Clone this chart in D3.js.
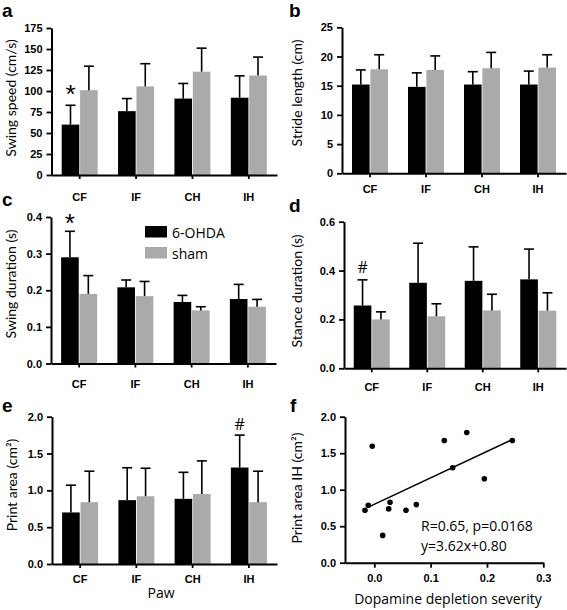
<!DOCTYPE html>
<html><head><meta charset="utf-8">
<script src="https://cdn.jsdelivr.net/npm/d3@7"></script>
<style>
body{margin:0;background:#fff;}
svg{display:block;}
.tick text{font-family:"Liberation Sans",Arial,sans-serif;font-weight:bold;fill:#000;}
</style></head>
<body>
<svg id="chart" width="567" height="610"></svg>
<script>
// ---------- DATA ----------
const categories = ["CF", "IF", "CH", "IH"];
const groups = ["6-OHDA", "sham"];

// a: swing speed (cm/s)
const swingSpeedOHDA = [60, 76, 91, 92];
const swingSpeedOHDASD = [23, 15, 18, 26];
const swingSpeedSham = [101, 105.5, 123, 118.4];
const swingSpeedShamSD = [28.5, 27, 28, 22];
const swingSpeedTicks = [0, 25, 50, 75, 100, 125, 150, 175];

// b: stride length (cm)
const strideOHDA = [15.2, 14.8, 15.2, 15.2];
const strideOHDASD = [2.5, 2.4, 2.2, 2.3];
const strideSham = [17.8, 17.7, 18.0, 18.1];
const strideShamSD = [2.5, 2.4, 2.7, 2.2];
const strideTicks = [0, 5, 10, 15, 20, 25];

// c: swing duration (s)
const swingDurOHDA = [0.29, 0.208, 0.168, 0.176];
const swingDurOHDASD = [0.071, 0.02, 0.018, 0.04];
const swingDurSham = [0.19, 0.184, 0.145, 0.155];
const swingDurShamSD = [0.05, 0.04, 0.01, 0.02];
const swingDurTicks = [0, 0.1, 0.2, 0.3, 0.4];

// d: stance duration (s)
const stanceOHDA = [0.257, 0.35, 0.358, 0.364];
const stanceOHDASD = [0.105, 0.162, 0.139, 0.124];
const stanceSham = [0.2, 0.213, 0.237, 0.236];
const stanceShamSD = [0.031, 0.051, 0.066, 0.073];
const stanceTicks = [0, 0.2, 0.4, 0.6];

// e: print area (cm2)
const printOHDA = [0.70, 0.867, 0.885, 1.31];
const printOHDASD = [0.37, 0.44, 0.36, 0.44];
const printSham = [0.84, 0.92, 0.95, 0.84];
const printShamSD = [0.42, 0.38, 0.45, 0.42];
const printTicks = [0, 0.5, 1.0, 1.5, 2.0];

// f: scatter, dopamine depletion severity vs print area IH
const depletion = [-0.0165, -0.0107, -0.0036, 0.0149, 0.0256, 0.0279, 0.0563, 0.0746, 0.1243, 0.1392, 0.1641, 0.1953, 0.2450];
const printIH   = [0.719, 0.787, 1.596, 0.374, 0.737, 0.828, 0.719, 0.796, 1.674, 1.301, 1.783, 1.151, 1.674];
const fitSlope = 3.62, fitIntercept = 0.80;
const fitRange = [-0.0107, 0.2450];
const scatterXTicks = [0.0, 0.1, 0.2, 0.3];
const scatterYTicks = [0, 0.5, 1.0, 1.5, 2.0];
const statsText = ["R=0.65, p=0.0168", "y=3.62x+0.80"];

// ---------- DRAW ----------
const svg = d3.select("#chart");
const BLACK = "#000", GRAY = "#aaaaaa";
const labelFont = '"Open Sans", "Liberation Sans", sans-serif';
const yLabelFont = 'Lato, "Open Sans", sans-serif';
const letterFont = '"Liberation Sans", Arial, sans-serif';

function barPanel(o) {
  const g = svg.append("g");
  const x = d3.scaleBand().domain(categories).range([o.x0, o.x1]).padding(0);
  const y = d3.scaleLinear().domain([0, o.max]).range([o.y0, o.y1]);
  const bw = 17.6, gap = 0.4;
  const rows = categories.map((c, i) => ({c, a: o.a[i], as: o.as[i], b: o.b[i], bs: o.bs[i]}));
  const cx = d => x(d.c) + x.bandwidth() / 2;
  const eb = (sel, key, skey, off) => {
    sel.append("line").attr("x1", d => off(d)).attr("x2", d => off(d))
      .attr("y1", d => y(d[key])).attr("y2", d => y(d[key] + d[skey]))
      .attr("stroke", BLACK).attr("stroke-width", 1.6);
    sel.append("line").attr("x1", d => off(d) - 5).attr("x2", d => off(d) + 5)
      .attr("y1", d => y(d[key] + d[skey])).attr("y2", d => y(d[key] + d[skey]))
      .attr("stroke", BLACK).attr("stroke-width", 1.6);
  };
  const grp = g.selectAll("g.cat").data(rows).join("g");
  grp.append("rect").attr("x", d => cx(d) - gap - bw).attr("width", bw)
    .attr("y", d => y(d.a)).attr("height", d => y(0) - y(d.a)).attr("fill", BLACK);
  grp.append("rect").attr("x", d => cx(d) + gap).attr("width", bw)
    .attr("y", d => y(d.b)).attr("height", d => y(0) - y(d.b)).attr("fill", GRAY);
  eb(grp, "a", "as", d => cx(d) - gap - bw / 2);
  eb(grp, "b", "bs", d => cx(d) + gap + bw / 2);
  const ya = g.append("g").attr("transform", `translate(${o.x0},0)`)
    .call(d3.axisLeft(y).tickValues(o.ticks).tickFormat(o.fmt).tickSize(5).tickPadding(4).tickSizeOuter(0));
  const xa = g.append("g").attr("transform", `translate(0,${o.y0})`)
    .call(d3.axisBottom(x).tickSize(4).tickPadding(o.labelDy - 4 - 7.8).tickSizeOuter(0));
  [ya, xa].forEach(a => {
    a.select(".domain").attr("stroke", BLACK).attr("stroke-width", 2);
    a.selectAll(".tick line").attr("stroke", BLACK).attr("stroke-width", 1.8);
  });
  ya.selectAll(".tick text").attr("font-size", 11);
  xa.selectAll(".tick text").attr("font-size", 11);
  g.append("text").attr("transform", `translate(${o.lx},${o.ly}) rotate(-90)`)
    .attr("text-anchor", "middle").attr("dominant-baseline", "central")
    .attr("font-family", yLabelFont).attr("font-size", 14).attr("fill", "#000")
    .text(o.label);
  g.append("text").attr("x", o.px).attr("y", o.py).attr("font-family", letterFont)
    .attr("font-weight", "bold").attr("font-size", 19).text(o.letter);
  if (o.mark) {
    const d = rows[o.mark.i];
    g.append("text").attr("x", cx(d) - gap - bw / 2).attr("y", o.mark.yb)
      .attr("text-anchor", "middle").attr("font-family", o.mark.font)
      .attr("font-size", o.mark.size).text(o.mark.t);
  }
  return {x, y, g};
}

barPanel({letter: "a", px: 2, py: 17, x0: 51.5, x1: 277, y0: 175, y1: 28, max: 175,
  ticks: swingSpeedTicks, fmt: d3.format("d"), labelDy: 26,
  a: swingSpeedOHDA, as: swingSpeedOHDASD, b: swingSpeedSham, bs: swingSpeedShamSD,
  label: "Swing speed (cm/s)", lx: 10, ly: 98,
  mark: {i: 0, t: "*", yb: 103, size: 26, font: letterFont}});

barPanel({letter: "b", px: 289, py: 17, x0: 342, x1: 566, y0: 173.3, y1: 27.3, max: 25,
  ticks: strideTicks, fmt: d3.format("d"), labelDy: 20,
  a: strideOHDA, as: strideOHDASD, b: strideSham, bs: strideShamSD,
  label: "Stride length (cm)", lx: 296, ly: 93});

barPanel({letter: "c", px: 2, py: 206, x0: 51, x1: 276, y0: 363.5, y1: 217, max: 0.4,
  ticks: swingDurTicks, fmt: d3.format(".1f"), labelDy: 24,
  a: swingDurOHDA, as: swingDurOHDASD, b: swingDurSham, bs: swingDurShamSD,
  label: "Swing duration (s)", lx: 10, ly: 284,
  mark: {i: 0, t: "*", yb: 232, size: 26, font: letterFont}});

barPanel({letter: "d", px: 289, py: 212, x0: 344, x1: 566, y0: 368.3, y1: 221.7, max: 0.6,
  ticks: stanceTicks, fmt: d3.format(".1f"), labelDy: 23,
  a: stanceOHDA, as: stanceOHDASD, b: stanceSham, bs: stanceShamSD,
  label: "Stance duration (s)", lx: 296, ly: 291,
  mark: {i: 0, t: "#", yb: 273, size: 16, font: labelFont}});

barPanel({letter: "e", px: 2, py: 412, x0: 52, x1: 277, y0: 564, y1: 416.7, max: 2,
  ticks: printTicks, fmt: d3.format(".1f"), labelDy: 19,
  a: printOHDA, as: printOHDASD, b: printSham, bs: printShamSD,
  label: "Print area (cm²)", lx: 11, ly: 485,
  mark: {i: 3, t: "#", yb: 430, size: 16, font: labelFont}});

// legend (in panel c)
const legend = svg.append("g");
groups.forEach((gname, i) => {
  legend.append("rect").attr("x", 145).attr("y", 226 + i * 21).attr("width", 22).attr("height", 11.5)
    .attr("fill", i === 0 ? BLACK : GRAY);
  legend.append("text").attr("x", 172).attr("y", 232 + i * 21).attr("dominant-baseline", "central")
    .attr("font-family", labelFont).attr("font-size", 14).text(gname);
});

svg.append("text").attr("x", 161).attr("y", 598).attr("text-anchor", "middle")
  .attr("font-family", labelFont).attr("font-size", 14).text("Paw");

// ---------- panel f ----------
const fx = d3.scaleLinear().domain([-0.052, 0.3]).range([345, 543.3]);
const fy = d3.scaleLinear().domain([0, 2]).range([562.7, 416.7]);
const fg = svg.append("g");
const fya = fg.append("g").attr("transform", "translate(345,0)")
  .call(d3.axisLeft(fy).tickValues(scatterYTicks).tickFormat(d3.format(".1f")).tickSize(5).tickPadding(4).tickSizeOuter(0));
const fxa = fg.append("g").attr("transform", "translate(0,562.7)")
  .call(d3.axisBottom(fx).tickValues(scatterXTicks).tickFormat(d3.format(".1f")).tickSize(5).tickPadding(7).tickSizeOuter(0));
[fya, fxa].forEach(a => {
  a.select(".domain").attr("stroke", BLACK).attr("stroke-width", 2);
  a.selectAll(".tick line").attr("stroke", BLACK).attr("stroke-width", 1.8);
  a.selectAll(".tick text").attr("font-size", 11);
});
fg.append("line").attr("x1", fx(fitRange[0])).attr("y1", fy(fitSlope * fitRange[0] + fitIntercept))
  .attr("x2", fx(fitRange[1])).attr("y2", fy(fitSlope * fitRange[1] + fitIntercept))
  .attr("stroke", BLACK).attr("stroke-width", 1.5);
fg.selectAll("circle").data(depletion.map((d, i) => [d, printIH[i]])).join("circle")
  .attr("cx", d => fx(d[0])).attr("cy", d => fy(d[1])).attr("r", 2.8).attr("fill", BLACK);
statsText.forEach((t, i) => {
  fg.append("text").attr("x", 421).attr("y", 531 + i * 20).attr("font-family", labelFont)
    .attr("font-size", 14).text(t);
});
fg.append("text").attr("transform", "translate(296,488) rotate(-90)")
  .attr("text-anchor", "middle").attr("dominant-baseline", "central")
  .attr("font-family", yLabelFont).attr("font-size", 14).text("Print area IH (cm²)");
fg.append("text").attr("x", 448).attr("y", 604).attr("text-anchor", "middle")
  .attr("font-family", labelFont).attr("font-size", 14).text("Dopamine depletion severity");
fg.append("text").attr("x", 290).attr("y", 412).attr("font-family", letterFont)
  .attr("font-weight", "bold").attr("font-size", 19).text("f");
</script>
</body></html>
